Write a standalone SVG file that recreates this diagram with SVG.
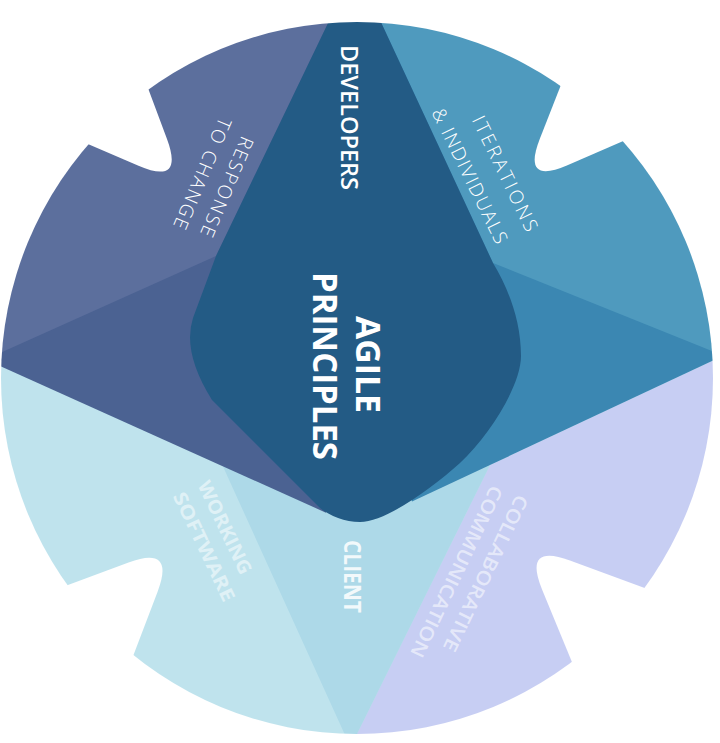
<svg xmlns="http://www.w3.org/2000/svg" width="720" height="743" viewBox="0 0 720 743">
<style>
.lbl{font-family:"Open Sans","Liberation Sans",sans-serif;fill:#ffffff}
.bold{font-weight:700}
.semi{font-weight:600}
.light{font-weight:300}
.faint{fill-opacity:0.5}
</style>
<defs>
<mask id="shape" maskUnits="userSpaceOnUse" x="0" y="0" width="720" height="743">
<circle cx="357" cy="378" r="356" fill="#fff"/>
<path fill="#000" d="M96.9,-48.75 L166.9,138.65 Q184.4,185.5 138.5,165.75 L-45.1,86.75 Z"/>
<path fill="#000" d="M612.85,-47.45 L539.85,138.75 Q521.6,185.3 567.45,165.35 L750.85,85.55 Z"/>
<path fill="#000" d="M-58.85,632 L128.55,562.4 Q175.4,545 157.6,591.7 L86.4,778.5 Z"/>
<path fill="#000" d="M757.75,629.55 L569.95,560.55 Q523,543.3 542.05,589.5 L618.25,774.3 Z"/>
</mask>
</defs>
<rect width="720" height="743" fill="#ffffff"/>
<g id="wheel" mask="url(#shape)">
  <g id="working-software-area"><rect x="-20" y="-20" width="760" height="790" fill="#bfe3ed"/></g>
  <g id="collaborative-area"><polygon points="490,465 740,348 740,760 344,760" fill="#c7cef3"/></g>
  <g id="client-area"><polygon points="222.9,466.3 354,300 490,465 350.5,747" fill="#add9e8"/></g>
  <g id="response-band"><polygon points="-14.5,359.5 326,512.7 354,300 354,-20 -20,-20" fill="#4b6292"/></g>
  <g id="response-area"><polygon points="-14.5,359.5 216,256 344,-10 -20,-20" fill="#5c6f9d"/></g>
  <g id="iterations-band"><polygon points="354,-20 740,-20 740,348 490,465 412,501.5 354,300" fill="#3b87b2"/></g>
  <g id="iterations-area"><polygon points="366,-10 493,263 721.4,354.8 740,-20" fill="#4f9abe"/></g>
  <g id="developers-agile"><path d="M344,-10 L366,-10 L493,263 C508,288 521,320 521,356 C521,385 490,435 460,463 C430,490 385,522 360,522 C345,522 330,516 320,508 L212,400 Q182,352 193,318 L216,256 Z" fill="#235b85"/></g>
</g>
<g id="labels">
  <text class="lbl semi" font-size="24" text-anchor="middle" textLength="145" lengthAdjust="spacingAndGlyphs" transform="translate(341.4,117.5) rotate(90)">DEVELOPERS</text>
  <text class="lbl bold" font-size="34" text-anchor="middle" textLength="97" lengthAdjust="spacingAndGlyphs" transform="translate(356,364.5) rotate(90)">AGILE</text>
  <text class="lbl bold" font-size="34" text-anchor="middle" textLength="188" lengthAdjust="spacingAndGlyphs" transform="translate(313,366) rotate(90)">PRINCIPLES</text>
  <text class="lbl bold" font-size="24" fill-opacity="0.85" text-anchor="middle" textLength="73" lengthAdjust="spacingAndGlyphs" transform="translate(344,576.5) rotate(90)">CLIENT</text>
  <text class="lbl light" font-size="19" text-anchor="middle" textLength="107" lengthAdjust="spacing" transform="translate(220.8,184.2) rotate(113)">RESPONSE</text>
  <text class="lbl light" font-size="19" text-anchor="middle" textLength="119" lengthAdjust="spacing" transform="translate(196.2,171) rotate(113)">TO CHANGE</text>
  <text class="lbl light" font-size="19" text-anchor="middle" textLength="126" lengthAdjust="spacing" transform="translate(499,176.4) rotate(64)">ITERATIONS</text>
  <text class="lbl light" font-size="19" text-anchor="middle" textLength="148" lengthAdjust="spacing" transform="translate(463.8,178.8) rotate(64)">&amp; INDIVIDUALS</text>
  <text class="lbl bold faint" font-size="19" text-anchor="middle" textLength="101" lengthAdjust="spacingAndGlyphs" transform="translate(218.9,530.4) rotate(64.5)">WORKING</text>
  <text class="lbl bold faint" font-size="19" text-anchor="middle" textLength="119" lengthAdjust="spacingAndGlyphs" transform="translate(198.1,549.6) rotate(64.5)">SOFTWARE</text>
  <text class="lbl semi" fill-opacity="0.55" font-size="19" text-anchor="middle" textLength="171" lengthAdjust="spacingAndGlyphs" transform="translate(479.7,570.4) rotate(115.7)">COLLABORATIVE</text>
  <text class="lbl semi" fill-opacity="0.55" font-size="19" text-anchor="middle" textLength="188" lengthAdjust="spacingAndGlyphs" transform="translate(450.6,568.8) rotate(115.7)">COMMUNICATION</text>
</g>
</svg>
